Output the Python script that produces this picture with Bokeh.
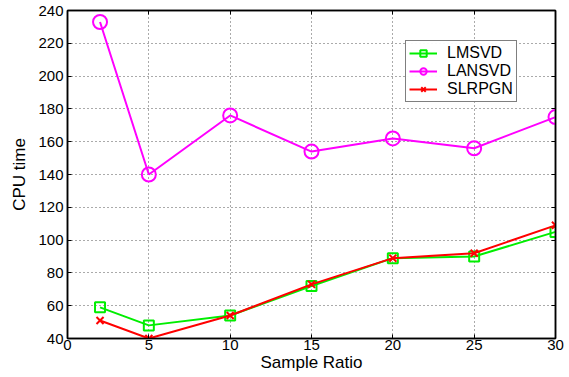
from bokeh.plotting import figure
from bokeh.models import LinearAxis, Legend, LegendItem, FixedTicker, Range1d
from bokeh.embed import file_html
from bokeh.resources import INLINE

x_vals = [2, 5, 10, 15, 20, 25, 30]
lmsvd = [59, 48, 54, 72, 89, 90, 105]
lansvd = [233, 140, 176, 154, 162, 156, 175]
slrpgn = [51, 40, 54, 73, 89, 92, 109]
x_ticks = [0, 5, 10, 15, 20, 25, 30]
y_ticks = [40, 60, 80, 100, 120, 140, 160, 180, 200, 220, 240]

FONT = "Liberation Sans"

p = figure(width=569, height=377, output_backend="svg", toolbar_location=None,
           x_range=Range1d(0, 30), y_range=Range1d(40, 240),
           min_border_left=67, min_border_right=14, min_border_top=10, min_border_bottom=39)
p.background_fill_color = "white"
p.border_fill_color = "white"
p.outline_line_color = "black"
p.outline_line_width = 1.5

for ax in (p.xaxis[0], p.yaxis[0]):
    ax.major_tick_in = 4
    ax.major_tick_out = 0
    ax.minor_tick_line_color = None
    ax.axis_line_color = "black"
    ax.axis_line_width = 1.5
    ax.major_label_text_font = FONT
    ax.major_label_text_font_size = "15px"
    ax.major_label_text_color = "black"
    ax.axis_label_text_font = FONT
    ax.axis_label_text_font_size = "17px"
    ax.axis_label_text_font_style = "normal"
    ax.axis_label_text_color = "black"

p.xaxis[0].ticker = FixedTicker(ticks=x_ticks)
p.yaxis[0].ticker = FixedTicker(ticks=y_ticks)
p.xaxis[0].axis_label = "Sample Ratio"
p.yaxis[0].axis_label = "CPU time"
p.xaxis[0].major_label_standoff = 1
p.yaxis[0].major_label_standoff = 4
p.xaxis[0].axis_label_standoff = 0
p.yaxis[0].axis_label_standoff = 6

p.xgrid.ticker = FixedTicker(ticks=x_ticks)
p.ygrid.ticker = FixedTicker(ticks=y_ticks)
for g in (p.xgrid[0], p.ygrid[0]):
    g.grid_line_color = "#555555"
    g.grid_line_dash = "1 3"
    g.grid_line_width = 1

# top and right axes with inward ticks, no labels
top = LinearAxis(ticker=FixedTicker(ticks=x_ticks), major_label_text_color=None,
                 major_label_text_font_size="1px",
                 major_tick_in=4, major_tick_out=0, minor_tick_line_color=None,
                 axis_line_color="black", axis_line_width=1.5)
right = LinearAxis(ticker=FixedTicker(ticks=y_ticks), major_label_text_color=None,
                   major_label_text_font_size="1px",
                   major_tick_in=4, major_tick_out=0, minor_tick_line_color=None,
                   axis_line_color="black", axis_line_width=1.5)
p.add_layout(top, "above")
p.add_layout(right, "right")

g1 = p.line(x_vals, lmsvd, color="#00ee00", line_width=2)
m1 = p.scatter(x_vals, lmsvd, marker="square", size=10, fill_color=None,
               line_color="#00ee00", line_width=2)
g2 = p.line(x_vals, lansvd, color="#ff00ff", line_width=2)
m2 = p.scatter(x_vals, lansvd, marker="circle", size=14, fill_color=None,
               line_color="#ff00ff", line_width=2)
g3 = p.line(x_vals, slrpgn, color="#ff0000", line_width=2)
m3 = p.scatter(x_vals, slrpgn, marker="x", size=10, line_color="#ff0000", line_width=2)

legend = Legend(items=[
    LegendItem(label="LMSVD", renderers=[g1, m1]),
    LegendItem(label="LANSVD", renderers=[g2, m2]),
    LegendItem(label="SLRPGN", renderers=[g3, m3]),
], location=(338, 236))
legend.label_text_font = FONT
legend.label_text_font_size = "16px"
legend.label_text_color = "black"
legend.border_line_color = "black"
legend.border_line_width = 1.5
legend.glyph_width = 28
legend.glyph_height = 16
legend.spacing = 0
legend.padding = 3
legend.margin = 0
legend.label_standoff = 10
legend.label_height = 16
p.add_layout(legend, "center")

open("out.html", "w").write(file_html(p, INLINE))
